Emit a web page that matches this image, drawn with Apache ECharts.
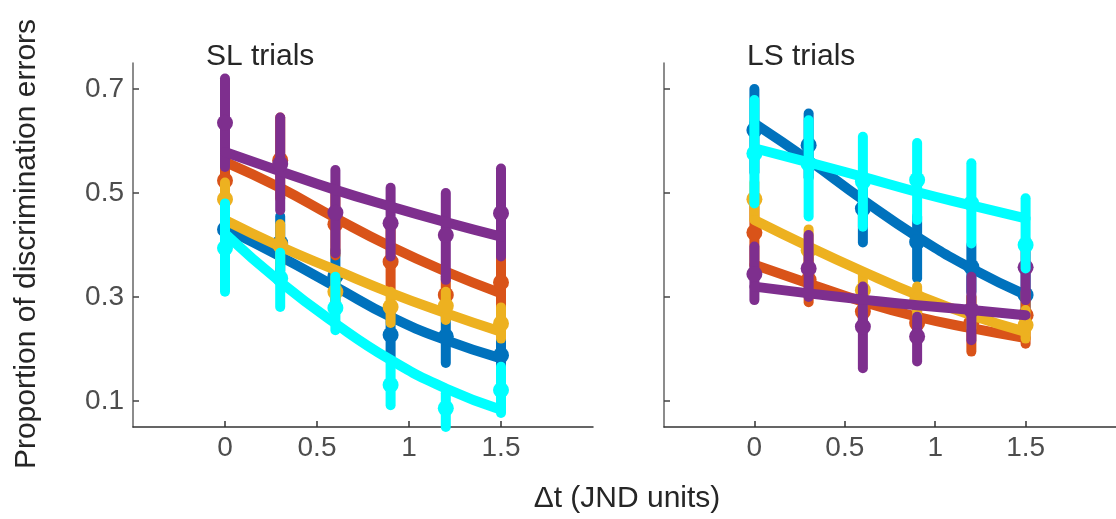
<!DOCTYPE html>
<html>
<head>
<meta charset="utf-8">
<script src="https://cdn.jsdelivr.net/npm/echarts@6/dist/echarts.min.js"></script>
<style>html,body{margin:0;padding:0;background:#fff}#c{width:1116px;height:519px}</style>
</head>
<body>
<div id="c"></div>
<script>
// x positions (JND units)
const xs = [0, 0.3, 0.6, 0.9, 1.2, 1.5];
const yTicks = [0.1, 0.3, 0.5, 0.7];
const xTicks = [0, 0.5, 1, 1.5];

// SL trials
const sl_blue_mean = [0.43, 0.404, 0.34, 0.227, 0.224, 0.188];
const sl_blue_lo   = [0.35, 0.35, 0.29, 0.179, 0.173, 0.14];
const sl_blue_hi   = [0.515, 0.455, 0.39, 0.279, 0.269, 0.243];
const sl_blue_fit  = [0.432, 0.378, 0.32, 0.262, 0.217, 0.182];

const sl_orange_mean = [0.524, 0.563, 0.44, 0.368, 0.304, 0.328];
const sl_orange_lo   = [0.47, 0.49, 0.38, 0.31, 0.27, 0.275];
const sl_orange_hi   = [0.58, 0.645, 0.50, 0.43, 0.34, 0.381];
const sl_orange_fit  = [0.56, 0.51, 0.452, 0.397, 0.349, 0.307];

const sl_yellow_mean = [0.488, 0.40, 0.31, 0.281, 0.283, 0.249];
const sl_yellow_lo   = [0.45, 0.36, 0.27, 0.25, 0.256, 0.22];
const sl_yellow_hi   = [0.52, 0.44, 0.35, 0.31, 0.31, 0.28];
const sl_yellow_fit  = [0.448, 0.397, 0.352, 0.308, 0.269, 0.233];

const sl_purple_mean = [0.635, 0.556, 0.462, 0.442, 0.419, 0.461];
const sl_purple_lo   = [0.55, 0.467, 0.384, 0.378, 0.333, 0.378];
const sl_purple_hi   = [0.72, 0.645, 0.544, 0.51, 0.50, 0.547];
const sl_purple_fit  = [0.579, 0.542, 0.506, 0.474, 0.444, 0.416];

const sl_cyan_mean = [0.394, 0.336, 0.279, 0.131, 0.086, 0.121];
const sl_cyan_lo   = [0.31, 0.281, 0.236, 0.092, 0.05, 0.077];
const sl_cyan_hi   = [0.48, 0.385, 0.339, 0.173, 0.115, 0.166];
const sl_cyan_fit  = [0.422, 0.329, 0.249, 0.179, 0.124, 0.083];

// LS trials
const ls_blue_mean = [0.621, 0.592, 0.47, 0.406, 0.358, 0.304];
const ls_blue_lo   = [0.54, 0.53, 0.405, 0.336, 0.31, 0.255];
const ls_blue_hi   = [0.70, 0.653, 0.535, 0.455, 0.40, 0.35];
const ls_blue_fit  = [0.634, 0.563, 0.487, 0.416, 0.355, 0.304];

const ls_orange_mean = [0.424, 0.333, 0.272, 0.25, 0.25, 0.265];
const ls_orange_lo   = [0.36, 0.29, 0.235, 0.215, 0.195, 0.21];
const ls_orange_hi   = [0.474, 0.38, 0.31, 0.285, 0.30, 0.31];
const ls_orange_fit  = [0.362, 0.326, 0.291, 0.262, 0.24, 0.221];

const ls_yellow_mean = [0.488, 0.39, 0.313, 0.294, 0.27, 0.246];
const ls_yellow_lo   = [0.45, 0.35, 0.28, 0.26, 0.24, 0.22];
const ls_yellow_hi   = [0.52, 0.43, 0.345, 0.32, 0.30, 0.275];
const ls_yellow_fit  = [0.448, 0.397, 0.349, 0.304, 0.265, 0.233];

const ls_purple_mean = [0.344, 0.355, 0.243, 0.224, 0.275, 0.357];
const ls_purple_lo   = [0.294, 0.30, 0.163, 0.176, 0.217, 0.294];
const ls_purple_hi   = [0.397, 0.419, 0.32, 0.262, 0.339, 0.41];
const ls_purple_fit  = [0.32, 0.307, 0.295, 0.284, 0.275, 0.265];

const ls_cyan_mean = [0.576, 0.556, 0.522, 0.525, 0.48, 0.40];
const ls_cyan_lo   = [0.48, 0.455, 0.435, 0.448, 0.403, 0.355];
const ls_cyan_hi   = [0.679, 0.64, 0.608, 0.596, 0.557, 0.49];
const ls_cyan_fit  = [0.586, 0.559, 0.531, 0.502, 0.476, 0.451];

const colors = {blue:'#0072BD', orange:'#D95319', yellow:'#EDB120', purple:'#7E2F8E', cyan:'#00FFFF'};
const FONT = '"Liberation Sans", Arial, Helvetica, sans-serif';

const panels = [
  {idx:0, groups:[
    ['blue', sl_blue_mean, sl_blue_lo, sl_blue_hi, sl_blue_fit],
    ['orange', sl_orange_mean, sl_orange_lo, sl_orange_hi, sl_orange_fit],
    ['yellow', sl_yellow_mean, sl_yellow_lo, sl_yellow_hi, sl_yellow_fit],
    ['purple', sl_purple_mean, sl_purple_lo, sl_purple_hi, sl_purple_fit],
    ['cyan', sl_cyan_mean, sl_cyan_lo, sl_cyan_hi, sl_cyan_fit]]},
  {idx:1, groups:[
    ['blue', ls_blue_mean, ls_blue_lo, ls_blue_hi, ls_blue_fit],
    ['orange', ls_orange_mean, ls_orange_lo, ls_orange_hi, ls_orange_fit],
    ['yellow', ls_yellow_mean, ls_yellow_lo, ls_yellow_hi, ls_yellow_fit],
    ['purple', ls_purple_mean, ls_purple_lo, ls_purple_hi, ls_purple_fit],
    ['cyan', ls_cyan_mean, ls_cyan_lo, ls_cyan_hi, ls_cyan_fit]]}
];

const series = [];
panels.forEach(p => {
  p.groups.forEach((g, gi) => {
    const [cname, mean, lo, hi, fit] = g;
    const col = colors[cname];
    const z = 2 + gi;
    series.push({
      type:'custom', xAxisIndex:p.idx, yAxisIndex:p.idx, z:z, clip:false, silent:true,
      data: xs.map((x,i)=>[x, lo[i], hi[i]]),
      encode:{x:0, y:[1,2]},
      renderItem:(params, api)=>{
        const a = api.coord([api.value(0), api.value(1)]);
        const b = api.coord([api.value(0), api.value(2)]);
        return {type:'line', shape:{x1:a[0], y1:a[1], x2:b[0], y2:b[1]},
          style:{stroke:col, lineWidth:10, lineCap:'round'}};
      }
    });
    series.push({
      type:'scatter', xAxisIndex:p.idx, yAxisIndex:p.idx, z:z, silent:true,
      symbol:'circle', symbolSize:16, itemStyle:{color:col, opacity:1},
      data: xs.map((x,i)=>[x, mean[i]])
    });
    series.push({
      type:'line', xAxisIndex:p.idx, yAxisIndex:p.idx, z:z, silent:true,
      smooth:true, showSymbol:false, symbol:'none',
      lineStyle:{color:col, width:10, cap:'round'},
      data: xs.map((x,i)=>[x, fit[i]])
    });
  });
});

function xAxis(i){
  return {type:'value', gridIndex:i, min:-0.5, max:2,
    axisLine:{show:true, onZero:false, lineStyle:{color:'#333', width:1.5}},
    axisTick:{show:true, inside:true, length:6, customValues:xTicks, lineStyle:{color:'#333', width:1.5}},
    axisLabel:{show:true, customValues:xTicks, fontSize:28, color:'#4d4d4d', margin:7, fontFamily:FONT,
      formatter:v=>String(v)},
    splitLine:{show:false}};
}
function yAxis(i, showLabel){
  return {type:'value', gridIndex:i, min:0.05, max:0.75,
    axisLine:{show:true, onZero:false, lineStyle:{color:'#666', width:1.5}},
    axisTick:{show:true, inside:true, length:6, customValues:yTicks, lineStyle:{color:'#444', width:1.5}},
    axisLabel:{show:showLabel, customValues:yTicks, fontSize:28, color:'#4d4d4d', margin:9, fontFamily:FONT,
      formatter:v=>v.toFixed(1)},
    splitLine:{show:false}};
}

const chart = echarts.init(document.getElementById('c'), null, {renderer:'canvas'});
chart.setOption({
  backgroundColor:'#ffffff',
  animation:false,
  grid:[
    {left:133, top:63, width:460, height:364},
    {left:664, top:63, width:458, height:364}
  ],
  xAxis:[xAxis(0), xAxis(1)],
  yAxis:[yAxis(0, true), yAxis(1, false)],
  series: series,
  graphic:[
    {type:'text', left:206, top:42, silent:true, z:100,
      style:{text:'SL trials', font:'30px '+FONT, fill:'#262626'}},
    {type:'text', left:747, top:42, silent:true, z:100,
      style:{text:'LS trials', font:'30px '+FONT, fill:'#262626'}},
    {type:'text', x:627, y:499, silent:true, z:100,
      style:{text:'Δt (JND units)', font:'30px '+FONT, fill:'#262626', textAlign:'center', textVerticalAlign:'middle'}},
    {type:'text', x:27, y:244, rotation:Math.PI/2, silent:true, z:100,
      style:{text:'Proportion of discrimination errors', font:'30px '+FONT, fill:'#262626', textAlign:'center', textVerticalAlign:'middle'}}
  ]
});
</script>
</body>
</html>
